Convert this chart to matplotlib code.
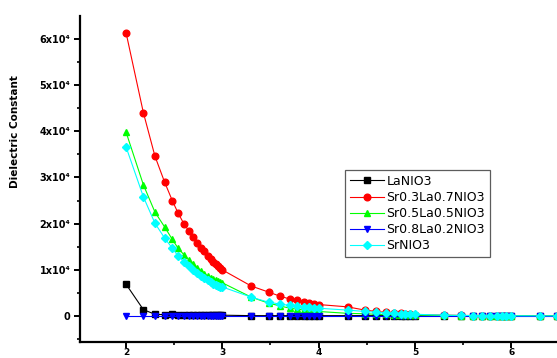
import numpy as np
import matplotlib
matplotlib.use("Agg")
import matplotlib.pyplot as plt
from matplotlib.ticker import MultipleLocator, FixedLocator

plt.rcParams['font.family'] = ['DejaVu Sans']

# log10 frequency
x = [2.00, 2.18, 2.30, 2.40, 2.48, 2.54, 2.60, 2.65, 2.70, 2.74, 2.78, 2.81,
     2.85, 2.88, 2.90, 2.93, 2.95, 2.98, 3.00, 3.30, 3.48, 3.60, 3.70, 3.78,
     3.85, 3.90, 3.95, 4.00, 4.30, 4.48, 4.60, 4.70, 4.78, 4.85, 4.90, 4.95,
     5.00, 5.30, 5.48, 5.60, 5.70, 5.78, 5.85, 5.90, 5.95, 6.00, 6.30, 6.48]

# dielectric constant, in units of 1e4
la_nio3 = [0.69, 0.14, 0.04, 0.03, 0.05, 0.02, 0.02, 0.02, 0.02, 0.02, 0.02, 0.02,
           0.02, 0.02, 0.02, 0.02, 0.02, 0.02, 0.02, 0.01, 0.01, 0.01, 0.01, 0.01,
           0.01, 0.01, 0.01, 0.01, 0.01, 0.01, 0.01, 0.01, 0.01, 0.01, 0.01, 0.01,
           0.01, 0.01, 0.01, 0.01, 0.01, 0.01, 0.01, 0.01, 0.01, 0.01, 0.01, 0.01]
sr03 = [6.13, 4.40, 3.46, 2.90, 2.50, 2.23, 2.00, 1.85, 1.70, 1.58, 1.48, 1.40,
        1.30, 1.23, 1.18, 1.12, 1.08, 1.04, 1.00, 0.65, 0.52, 0.43, 0.37, 0.34,
        0.31, 0.29, 0.27, 0.25, 0.20, 0.13, 0.10, 0.08, 0.07, 0.06, 0.05, 0.04,
        0.03, 0.02, 0.015, 0.012, 0.01, 0.01, 0.008, 0.008, 0.007, 0.006, 0.005, 0.004]
sr05 = [3.98, 2.84, 2.25, 1.93, 1.66, 1.47, 1.33, 1.22, 1.12, 1.04, 0.97, 0.92,
        0.86, 0.82, 0.80, 0.77, 0.75, 0.73, 0.72, 0.41, 0.28, 0.22, 0.17, 0.15,
        0.13, 0.12, 0.11, 0.10, 0.06, 0.05, 0.04, 0.035, 0.03, 0.03, 0.025, 0.025,
        0.02, 0.015, 0.012, 0.01, 0.01, 0.008, 0.008, 0.007, 0.007, 0.006, 0.005, 0.004]
sr08 = [0.0] * len(x)
sr_nio3 = [3.66, 2.58, 2.01, 1.69, 1.47, 1.30, 1.18, 1.09, 1.00, 0.93, 0.87, 0.82,
           0.77, 0.73, 0.70, 0.68, 0.66, 0.64, 0.63, 0.41, 0.30, 0.26, 0.23, 0.21,
           0.20, 0.19, 0.18, 0.17, 0.13, 0.10, 0.08, 0.07, 0.06, 0.055, 0.05, 0.045,
           0.04, 0.02, 0.015, 0.012, 0.01, 0.01, 0.008, 0.008, 0.007, 0.006, 0.005, 0.004]

series = [
    ("LaNIO3", la_nio3, "black", "s"),
    ("Sr0.3La0.7NIO3", sr03, "#ff0000", "o"),
    ("Sr0.5La0.5NIO3", sr05, "#00ff00", "^"),
    ("Sr0.8La0.2NIO3", sr08, "#0000ff", "v"),
    ("SrNIO3", sr_nio3, "#00ffff", "D"),
]

fig = plt.figure(figsize=(5.57, 3.58), dpi=100)
ax = fig.add_axes([80 / 557, 16 / 358, 477 / 557, 326 / 358])

for name, vals, col, mk in series:
    ms = 4.0 if mk == "D" else 4.8
    ax.plot(x, np.array(vals) * 1e4, color=col, marker=mk, markersize=ms,
            linewidth=0.8, label=name)

ax.set_xlim(1.522, 6.475)
ax.set_ylim(-5600, 64900)

ax.spines['top'].set_visible(False)
ax.spines['right'].set_visible(False)
ax.spines['left'].set_linewidth(1.6)
ax.spines['bottom'].set_linewidth(1.6)

ax.xaxis.set_major_locator(MultipleLocator(1))
ax.xaxis.set_minor_locator(MultipleLocator(0.5))
ax.yaxis.set_major_locator(FixedLocator([0, 10000, 20000, 30000, 40000, 50000, 60000]))
ax.yaxis.set_minor_locator(MultipleLocator(5000))
ax.set_yticklabels(["0", "1x10\u2074", "2x10\u2074", "3x10\u2074",
                    "4x10\u2074", "5x10\u2074", "6x10\u2074"])
ax.tick_params(which='major', direction='out', length=4, width=1.4)
ax.tick_params(which='minor', direction='out', length=2, width=1.2)
ax.tick_params(axis='y', which='major', labelsize=7, pad=3)
ax.tick_params(axis='x', which='major', labelsize=6.5, pad=0.5)
for lab in ax.get_xticklabels() + ax.get_yticklabels():
    lab.set_fontweight('bold')

fig.text(15 / 557, 1 - 132 / 358, "Dielectric Constant", rotation=90,
         ha='center', va='center', fontsize=7.5, fontweight='bold')

leg = ax.legend(loc='upper left', bbox_to_anchor=(0.556, 0.528), fontsize=9,
                frameon=True, fancybox=False, edgecolor='#333333',
                handlelength=2.7, labelspacing=0.25, borderpad=0.4,
                handletextpad=0.2, borderaxespad=0)
leg.get_frame().set_linewidth(0.9)

fig.savefig("out.png", dpi=100)
